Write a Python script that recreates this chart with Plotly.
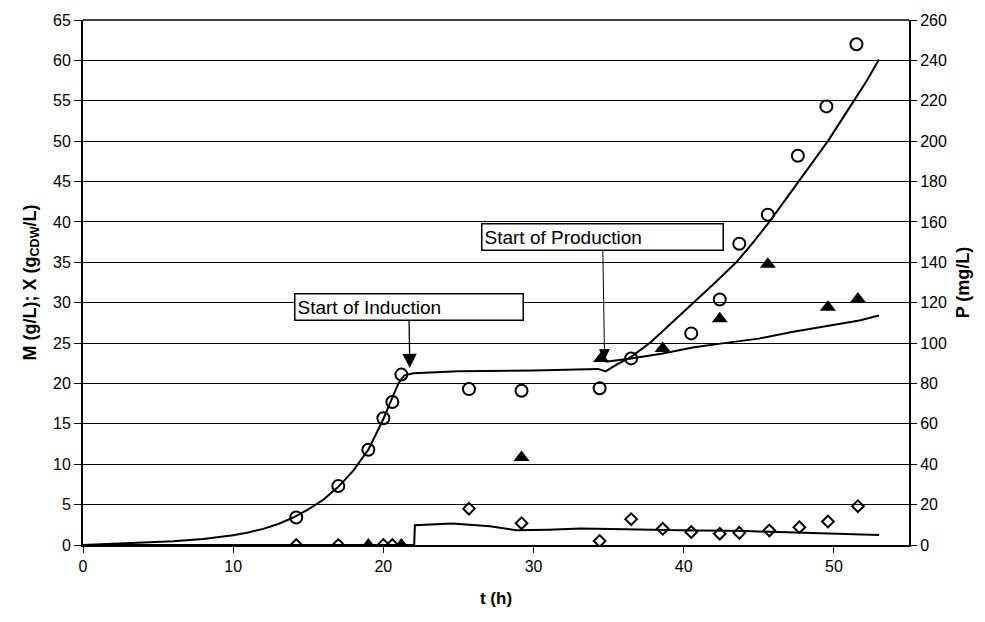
import plotly.graph_objects as go

# Biomass X (open circles, left axis, g/L)
t_X = [14.2, 17.0, 19.0, 20.0, 20.6, 21.2, 25.7, 29.2, 34.4, 36.5, 40.5, 42.4, 43.7, 45.6, 47.6, 49.5, 51.5]
X_obs = [3.4, 7.3, 11.8, 15.7, 17.7, 21.1, 19.3, 19.1, 19.4, 23.1, 26.2, 30.4, 37.3, 40.9, 48.2, 54.3, 62.0]

# Methanol M (open diamonds, left axis, g/L)
t_M = [14.2, 17.0, 20.0, 20.6, 25.7, 29.2, 34.4, 36.5, 38.6, 40.5, 42.4, 43.7, 45.7, 47.7, 49.6, 51.6]
M_obs = [0, 0, 0, 0, 4.5, 2.7, 0.5, 3.2, 2.0, 1.6, 1.4, 1.5, 1.8, 2.2, 2.9, 4.8]

# Product P (filled triangles, right axis, mg/L)
t_P = [19.0, 21.2, 29.2, 34.5, 38.6, 42.4, 45.6, 49.6, 51.6]
P_obs = [0, 0, 43.3, 92.4, 97.3, 112.0, 139.0, 117.7, 121.8]

# Model curves (solid lines)
t_Xm = [0, 3, 6, 8, 10, 11, 12, 13, 14, 15, 16, 17, 18, 19, 19.5, 20, 20.5, 21, 21.4, 22, 25, 30, 34.3,
        34.8, 35.5, 36.5, 37.8, 39.2, 40.7, 42.1, 43.5, 44.6, 45.7, 46.6, 47.6, 48.6, 49.6, 50.5, 51.3, 52.2, 53]
X_mod = [0, 0.2, 0.45, 0.75, 1.2, 1.55, 2.0, 2.6, 3.4, 4.4, 5.6, 7.2, 9.2, 11.8, 13.6, 15.6, 17.8, 20.0, 21.0, 21.25, 21.5, 21.6, 21.8,
         21.5, 22.3, 23.3, 25.1, 27.5, 30.0, 32.5, 35.0, 37.4, 40.0, 42.3, 44.9, 47.4, 50.0, 52.6, 54.9, 57.5, 60.1]

t_Mm = [0, 22.05, 22.1, 23.0, 24.6, 27.1, 28.85, 31.0, 33.1, 34.2, 36.2, 39.7, 44.15, 48.6, 53.0]
M_mod = [0, 0, 2.45, 2.55, 2.66, 2.33, 1.84, 1.9, 2.04, 2.0, 1.92, 1.84, 1.72, 1.51, 1.23]

t_Pm = [34.8, 36.5, 38.6, 40.6, 42.8, 45.0, 47.2, 49.5, 51.7, 53.0]
P_mod = [90.8, 92.4, 94.8, 97.8, 100.1, 102.2, 105.5, 108.4, 111.2, 113.7]

FONT = "Liberation Sans, Arial, sans-serif"

fig = go.Figure()

# model lines
fig.add_trace(go.Scatter(x=t_Xm, y=X_mod, mode="lines", line=dict(color="black", width=2), showlegend=False))
fig.add_trace(go.Scatter(x=t_Mm, y=M_mod, mode="lines", line=dict(color="black", width=2), showlegend=False))
fig.add_trace(go.Scatter(x=t_Pm, y=P_mod, mode="lines", line=dict(color="black", width=2),
                         yaxis="y2", showlegend=False))

# observations
fig.add_trace(go.Scatter(x=t_M, y=M_obs, mode="markers",
                         marker=dict(symbol="diamond-open", size=9, color="black", line=dict(width=2)),
                         showlegend=False))
fig.add_trace(go.Scatter(x=t_X, y=X_obs, mode="markers",
                         marker=dict(symbol="circle-open", size=12, color="black", line=dict(width=2)),
                         showlegend=False))
fig.add_trace(go.Scatter(x=t_P, y=P_obs, mode="markers", yaxis="y2",
                         marker=dict(symbol="triangle-up", size=14, color="black"),
                         showlegend=False))

annotations = [
    # labelled boxes with arrows pointing down to the event times
    dict(x=21.76, y=21.9, xref="x", yref="y",
         ax=21.7, ay=29.49, axref="x", ayref="y",
         xanchor="center", yanchor="middle",
         text="Start of Induction", align="left",
         font=dict(family=FONT, size=19, color="black"),
         bordercolor="black", borderwidth=1.5, borderpad=2, bgcolor="white",
         width=223, height=21,
         showarrow=True, arrowhead=2, arrowsize=2.2, arrowwidth=1.3, arrowcolor="black"),
    dict(x=34.73, y=22.9, xref="x", yref="y",
         ax=34.6, ay=38.14, axref="x", ayref="y",
         xanchor="center", yanchor="middle",
         text="Start of Production", align="left",
         font=dict(family=FONT, size=19, color="black"),
         bordercolor="black", borderwidth=1.5, borderpad=2, bgcolor="white",
         width=236, height=21,
         showarrow=True, arrowhead=2, arrowsize=2.2, arrowwidth=1.0, arrowcolor="black"),
]

fig.update_layout(
    width=985, height=622,
    margin=dict(l=83, r=76, t=15, b=77),
    paper_bgcolor="white", plot_bgcolor="white",
    font=dict(family=FONT, size=16, color="black"),
    annotations=annotations,
    xaxis=dict(
        range=[0, 55], dtick=10, tick0=0,
        showgrid=False, zeroline=False,
        showline=True, linecolor="black", linewidth=1.5,
        ticks="outside", ticklen=6, tickcolor="black", tickwidth=1.2,
        tickfont=dict(family=FONT, size=16),
        title=dict(text="<b>t (h)</b>", font=dict(family=FONT, size=17), standoff=18),
    ),
    yaxis=dict(
        range=[0, 65], dtick=5, tick0=0,
        showgrid=True, gridcolor="black", gridwidth=1.2,
        zeroline=False,
        showline=True, linecolor="black", linewidth=2, mirror=False,
        ticks="outside", ticklen=7, tickcolor="black", tickwidth=1.2,
        tickfont=dict(family=FONT, size=16),
        title=dict(text="<b>M (g/L); X (g<sub>CDW</sub>/L)</b>", font=dict(family=FONT, size=18), standoff=12),
    ),
    yaxis2=dict(
        range=[0, 260], dtick=20, tick0=0,
        overlaying="y", side="right",
        showgrid=False, zeroline=False,
        showline=True, linecolor="black", linewidth=2,
        ticks="outside", ticklen=6, tickcolor="black", tickwidth=1.2,
        tickfont=dict(family=FONT, size=16),
        title=dict(text="<b>P (mg/L)</b>", font=dict(family=FONT, size=18), standoff=10),
    ),
)

# top border line of the plot area
fig.add_shape(type="line", xref="paper", yref="paper", x0=0, x1=1, y0=1, y1=1,
              line=dict(color="black", width=1.5))

fig.write_html("out.html")
